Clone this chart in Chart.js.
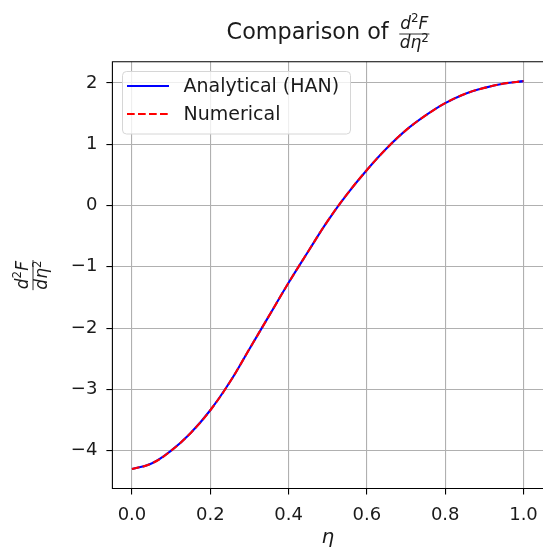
<!DOCTYPE html>
<html>
<head>
<meta charset="utf-8">
<script src="https://cdn.jsdelivr.net/npm/chart.js@4"></script>
<style>
  html, body { margin: 0; padding: 0; background: #fff; overflow: hidden; }
  #wrap { width: 548px; height: 549px; }
</style>
</head>
<body>
<div id="wrap"><canvas id="chart" width="548" height="549"></canvas></div>
<script>
// eta positions and values
const etaValues = [0, 0.05, 0.1, 0.15, 0.2, 0.25, 0.3, 0.35, 0.4, 0.45, 0.5,
                   0.55, 0.6, 0.65, 0.7, 0.75, 0.8, 0.85, 0.9, 0.95, 1.0];
const analyticalHAN = [-4.30, -4.21, -4.00, -3.71, -3.34, -2.88, -2.34, -1.80, -1.26, -0.75, -0.25,
                       0.19, 0.58, 0.93, 1.23, 1.47, 1.67, 1.82, 1.92, 1.99, 2.03];
const numerical = [-4.30, -4.21, -4.00, -3.71, -3.34, -2.88, -2.34, -1.80, -1.26, -0.75, -0.25,
                   0.19, 0.58, 0.93, 1.23, 1.47, 1.67, 1.82, 1.92, 1.99, 2.03];
const xTicks = [0, 0.2, 0.4, 0.6, 0.8, 1.0];
const yTicks = [-4, -3, -2, -1, 0, 1, 2];

const FONT = '"DejaVu Sans", sans-serif';
const TXT = '#1a1a1a';
const FRAC_SIZE = 17;

function toPoints(ys) {
    return etaValues.map((x, i) => ({ x: x, y: ys[i] }));
}

// pieces: [text, isSuperscript]
function mathWidth(ctx, pieces, size) {
    let w = 0;
    pieces.forEach(p => {
        ctx.font = p[1] ? (size * 0.7) + 'px ' + FONT : 'italic ' + size + 'px ' + FONT;
        w += ctx.measureText(p[0]).width;
    });
    return w;
}

function drawMath(ctx, x, y, pieces, size) {
    pieces.forEach(p => {
        ctx.font = p[1] ? (size * 0.7) + 'px ' + FONT : 'italic ' + size + 'px ' + FONT;
        ctx.fillText(p[0], x, p[1] ? y - size * 0.38 : y);
        x += ctx.measureText(p[0]).width;
    });
}

const NUM = [['d', false], ['2', true], ['F', false]];
const DEN = [['dη', false], ['2', true]];

// d2F / deta2 fraction, bar centred on (cx, cy)
function drawFrac(ctx, cx, cy, size) {
    ctx.save();
    ctx.fillStyle = TXT;
    ctx.textAlign = 'left';
    ctx.textBaseline = 'alphabetic';
    const wn = mathWidth(ctx, NUM, size), wd = mathWidth(ctx, DEN, size);
    const w = Math.max(wn, wd) + 1;
    drawMath(ctx, cx - wn / 2, cy - size * 0.3, NUM, size);
    drawMath(ctx, cx - wd / 2, cy + size * 0.85, DEN, size);
    ctx.strokeStyle = TXT;
    ctx.lineWidth = 0.9;
    ctx.beginPath();
    ctx.moveTo(cx - w / 2, cy);
    ctx.lineTo(cx + w / 2, cy);
    ctx.stroke();
    ctx.restore();
    return w;
}

const decorations = {
    id: 'decorations',
    afterDraw(chart) {
        const ctx = chart.ctx;
        const a = chart.chartArea;

        // spines
        ctx.save();
        ctx.strokeStyle = '#000';
        ctx.lineWidth = 1.1;
        ctx.beginPath();
        ctx.moveTo(a.right, a.top);
        ctx.lineTo(a.left, a.top);
        ctx.lineTo(a.left, a.bottom);
        ctx.lineTo(a.right, a.bottom);
        ctx.stroke();
        ctx.restore();

        // title
        ctx.save();
        ctx.font = '22.3px ' + FONT;
        const t = 'Comparison of ';
        const tw = ctx.measureText(t).width + 4;
        const fw = mathWidth(ctx, DEN, FRAC_SIZE);
        const cx = (a.left + a.right) / 2;
        const x0 = cx - (tw + fw) / 2;
        ctx.font = '22.3px ' + FONT;
        ctx.fillStyle = TXT;
        ctx.textBaseline = 'alphabetic';
        ctx.textAlign = 'left';
        ctx.fillText(t, x0, 38.5);
        ctx.restore();
        drawFrac(ctx, x0 + tw + fw / 2, 34, FRAC_SIZE);

        // y label (rotated fraction)
        ctx.save();
        ctx.translate(33, (a.top + a.bottom) / 2);
        ctx.rotate(-Math.PI / 2);
        drawFrac(ctx, 0, 0, FRAC_SIZE);
        ctx.restore();

        // x label
        ctx.save();
        ctx.font = 'italic 20px ' + FONT;
        ctx.fillStyle = TXT;
        ctx.textAlign = 'center';
        ctx.textBaseline = 'alphabetic';
        ctx.fillText('η', chart.scales.x.getPixelForValue(0.5), 543);
        ctx.restore();

        // legend
        ctx.save();
        const lx = 122.5, ly = 71.5, lw = 228, lh = 62.5, r = 4;
        ctx.beginPath();
        ctx.roundRect(lx, ly, lw, lh, r);
        ctx.fillStyle = 'rgba(255,255,255,0.8)';
        ctx.fill();
        ctx.strokeStyle = '#d6d6d6';
        ctx.lineWidth = 1;
        ctx.stroke();
        const items = [
            { label: 'Analytical (HAN)', color: 'blue', dash: [], y: 86 },
            { label: 'Numerical', color: 'red', dash: [7.7, 3.3], y: 114 }
        ];
        items.forEach(it => {
            ctx.beginPath();
            ctx.setLineDash(it.dash);
            ctx.strokeStyle = it.color;
            ctx.lineWidth = 2.1;
            ctx.moveTo(127, it.y);
            ctx.lineTo(169, it.y);
            ctx.stroke();
            ctx.setLineDash([]);
            ctx.font = '19px ' + FONT;
            ctx.fillStyle = TXT;
            ctx.textAlign = 'left';
            ctx.textBaseline = 'middle';
            ctx.fillText(it.label, 183.5, it.y + 1);
        });
        ctx.restore();
    }
};

const ctx = document.getElementById('chart').getContext('2d');
const chart = new Chart(ctx, {
    type: 'line',
    data: {
        datasets: [
            {
                label: 'Analytical (HAN)',
                data: toPoints(analyticalHAN),
                borderColor: 'blue',
                borderWidth: 2.1,
                pointRadius: 0,
                fill: false,
                tension: 0.4,
                order: 2
            },
            {
                label: 'Numerical',
                data: toPoints(numerical),
                borderColor: 'red',
                borderWidth: 2.1,
                borderDash: [7.7, 3.3],
                pointRadius: 0,
                fill: false,
                tension: 0.4,
                order: 1
            }
        ]
    },
    options: {
        responsive: false,
        animation: false,
        layout: { padding: { left: 0, right: 4, top: 61.7, bottom: 0 } },
        plugins: {
            legend: { display: false },
            tooltip: { enabled: false },
            title: { display: false }
        },
        scales: {
            x: {
                type: 'linear',
                min: -0.05,
                max: 1.05,
                afterBuildTicks: s => { s.ticks = xTicks.map(v => ({ value: v })); },
                afterFit: s => { s.height = 549 - 488.5; },
                grid: { color: '#b0b0b0', lineWidth: 1.1, tickColor: '#000', tickLength: 6, tickWidth: 1.1 },
                border: { display: false },
                ticks: {
                    color: TXT,
                    font: { family: FONT, size: 18 },
                    padding: 10,
                    maxRotation: 0,
                    callback: v => v.toFixed(1)
                }
            },
            y: {
                type: 'linear',
                min: -4.617,
                max: 2.347,
                afterBuildTicks: s => { s.ticks = yTicks.map(v => ({ value: v })); },
                afterFit: s => { s.width = 112.4; },
                grid: { color: '#b0b0b0', lineWidth: 1.1, tickColor: '#000', tickLength: 6, tickWidth: 1.1 },
                border: { display: false },
                ticks: {
                    color: TXT,
                    font: { family: FONT, size: 18 },
                    padding: 9,
                    callback: v => (v < 0 ? '\u2212' + Math.abs(v) : String(v))
                }
            }
        }
    },
    plugins: [decorations]
});
</script>
</body>
</html>
